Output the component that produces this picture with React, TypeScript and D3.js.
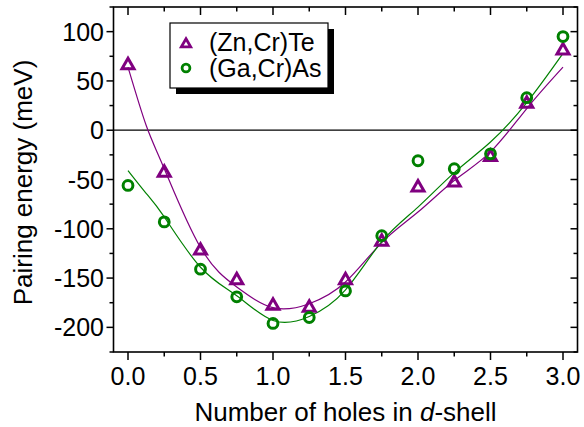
import React from "react";
import * as d3 from "d3";

const holes = [0, 0.25, 0.5, 0.75, 1.0, 1.25, 1.5, 1.75, 2.0, 2.25, 2.5, 2.75, 3.0];
const znCrTe = [66, -43, -122, -152, -178, -180, -152, -113, -58, -53, -27, 27, 81];
const gaCrAs = [-56, -93, -141, -169, -196, -190, -163, -107, -31, -39, -24, 33, 95];

const fitZnX = [0, 0.125, 0.25, 0.5, 0.75, 1.0, 1.25, 1.5, 1.75, 2.0, 2.25, 2.5, 2.75, 3.0];
const fitZnY = [64, 5, -39, -119, -159, -180, -176, -154, -114, -83, -51, -22, 22, 64];
const fitGaX = [0, 0.125, 0.25, 0.5, 0.75, 1.0, 1.25, 1.5, 1.75, 2.0, 2.25, 2.5, 2.75, 3.0];
const fitGaY = [-41, -64, -88, -139, -168, -193, -189, -162, -113, -78, -43, -12, 28, 78];

const xTicks = [0, 0.5, 1.0, 1.5, 2.0, 2.5, 3.0];
const xMinor = [0.25, 0.75, 1.25, 1.75, 2.25, 2.75];
const yTicks = [-200, -150, -100, -50, 0, 50, 100];
const yMinor = [-225, -175, -125, -75, -25, 25, 75, 125];

const PURPLE = "#800080";
const GREEN = "#008000";
const FONT = "'Liberation Sans', Arial, sans-serif";

const L = 113.5, R = 577.5, T = 7, B = 352;

function Tri({ x, y, s = 1, w = 3 }: { x: number; y: number; s?: number; w?: number }) {
  const p = `M${x},${y - 6.8 * s}L${x + 6 * s},${y + 3.6 * s}L${x - 6 * s},${y + 3.6 * s}Z`;
  return <path d={p} fill="none" stroke={PURPLE} strokeWidth={w} strokeLinejoin="miter" />;
}

export default function App() {
  const x = d3.scaleLinear().domain([-0.1, 3.1]).range([L, R]);
  const y = d3.scaleLinear().domain([-225, 125]).range([B, T]);
  const line = d3
    .line<[number, number]>()
    .x((d) => x(d[0]))
    .y((d) => y(d[1]))
    .curve(d3.curveNatural);
  const znFit = fitZnX.map((v, i) => [v, fitZnY[i]] as [number, number]);
  const gaFit = fitGaX.map((v, i) => [v, fitGaY[i]] as [number, number]);

  return (
    <svg width={584} height={427} style={{ position: "absolute", left: 0, top: 0 }} fontFamily={FONT}>
      <rect x={0} y={0} width={584} height={427} fill="#fff" />
      <line x1={L} x2={R} y1={y(0)} y2={y(0)} stroke="#000" strokeWidth={1.2} />
      <path d={line(znFit) || ""} fill="none" stroke={PURPLE} strokeWidth={1.2} />
      <path d={line(gaFit) || ""} fill="none" stroke={GREEN} strokeWidth={1.2} />
      {holes.map((h, i) => (
        <Tri key={"t" + i} x={x(h)} y={y(znCrTe[i])} />
      ))}
      {holes.map((h, i) => (
        <circle key={"c" + i} cx={x(h)} cy={y(gaCrAs[i])} r={4.9} fill="none" stroke={GREEN} strokeWidth={3} />
      ))}
      <rect x={L} y={T} width={R - L} height={B - T} fill="none" stroke="#000" strokeWidth={1.6} />
      {xTicks.map((t) => (
        <g key={"xt" + t}>
          <line x1={x(t)} x2={x(t)} y1={B} y2={B + 8} stroke="#000" strokeWidth={1.5} />
          <line x1={x(t)} x2={x(t)} y1={T} y2={T + 8} stroke="#000" strokeWidth={1.5} />
          <text x={x(t)} y={385} textAnchor="middle" fontSize={25} fill="#000">
            {t.toFixed(1)}
          </text>
        </g>
      ))}
      {xMinor.map((t) => (
        <g key={"xm" + t}>
          <line x1={x(t)} x2={x(t)} y1={B} y2={B + 4.5} stroke="#000" strokeWidth={1.5} />
          <line x1={x(t)} x2={x(t)} y1={T} y2={T + 4.5} stroke="#000" strokeWidth={1.5} />
        </g>
      ))}
      {yTicks.map((t) => (
        <g key={"yt" + t}>
          <line x1={L - 7} x2={L} y1={y(t)} y2={y(t)} stroke="#000" strokeWidth={1.5} />
          <line x1={R - 7} x2={R} y1={y(t)} y2={y(t)} stroke="#000" strokeWidth={1.5} />
          <text x={104} y={y(t) + 9} textAnchor="end" fontSize={25} fill="#000">
            {t}
          </text>
        </g>
      ))}
      {yMinor.map((t) => (
        <g key={"ym" + t}>
          <line x1={L - 4} x2={L} y1={y(t)} y2={y(t)} stroke="#000" strokeWidth={1.5} />
          <line x1={R - 4} x2={R} y1={y(t)} y2={y(t)} stroke="#000" strokeWidth={1.5} />
        </g>
      ))}
      <text x={(L + R) / 2} y={421} textAnchor="middle" fontSize={26} fill="#000">
        Number of holes in <tspan fontStyle="italic">d</tspan>-shell
      </text>
      <text
        transform={`translate(32,${(T + B) / 2 + 3}) rotate(-90)`}
        textAnchor="middle"
        fontSize={26}
        fill="#000"
      >
        Pairing energy (meV)
      </text>
      <rect x={176} y={29} width={158} height={65} fill="#000" />
      <rect x={170} y={23} width={158} height={65} fill="#fff" stroke="#000" strokeWidth={1.2} />
      <Tri x={186} y={44} s={0.78} w={2.8} />
      <circle cx={186} cy={68} r={3.9} fill="none" stroke={GREEN} strokeWidth={2.8} />
      <text x={209} y={51} fontSize={25} fill="#000">(Zn,Cr)Te</text>
      <text x={209} y={77} fontSize={25} fill="#000">(Ga,Cr)As</text>
    </svg>
  );
}
